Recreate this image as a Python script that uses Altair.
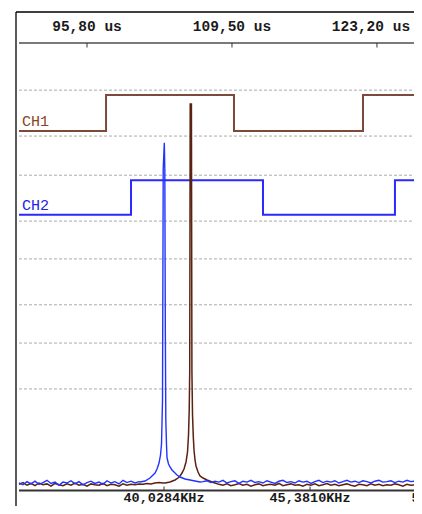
import altair as alt
import pandas as pd
import numpy as np

# ---------------- axes ----------------
T_MIN, T_MAX = 89.375, 126.70          # visible time window (us), top axis
time_ticks = [95.80, 109.50, 123.20]
time_labels = ["95,80 us", "109,50 us", "123,20 us"]

F_MIN, F_MAX = 34.712, 49.193          # visible frequency window (KHz), bottom axis
freq_ticks = [40.0284, 45.3810, 50.7336]
freq_labels = ["40,0284KHz", "45,3810KHz", "50,7336KHz"]

# ---------------- logic lanes ----------------
grid_levels = [89.3, 79.1, 70.4, 60.2, 51.8, 41.6, 33.1, 22.9]

ch1_t = [89.375, 97.60, 109.69, 121.88, 127.07]
ch1_bit = [0, 1, 0, 1, 1]
ch1_lo, ch1_hi = 80.2, 88.2

ch2_t = [89.375, 99.96, 112.43, 124.90, 127.07]
ch2_bit = [0, 1, 0, 1, 1]
ch2_lo, ch2_hi = 61.6, 69.3

# ---------------- spectra ----------------
NOISE_F0, NOISE_DF = 34.712, 0.1466
blue_noise = [
    2.0, 1.6, 2.3, 1.8, 2.4, 1.7, 2.1, 2.6, 1.9, 2.2,
    1.5, 2.2, 2.0, 2.5, 1.8, 2.3, 1.6, 2.1, 2.4, 1.9,
    2.2, 1.7, 2.5, 2.0, 2.3, 1.8, 2.6, 2.1, 2.4, 2.0,
    2.3, 2.2, 2.4, 2.5, 2.6, 2.8, 3.0, 3.2, 3.0, 2.8,
    2.6, 2.5, 2.4, 2.3, 2.4, 2.2, 2.3, 2.5, 2.1, 2.4,
    2.2, 2.6, 2.0, 2.3, 2.5, 1.9, 2.4, 2.2, 2.6, 2.1,
    2.3, 2.0, 2.5, 2.2, 1.9, 2.4, 2.6, 2.1, 2.3, 2.0,
    2.5, 2.2, 2.4, 1.9, 2.3, 2.6, 2.1, 2.4, 2.2, 2.5,
    2.0, 2.3, 2.6, 2.2, 2.4, 2.1, 2.5, 2.3, 2.0, 2.4,
    2.6, 2.2, 2.3, 2.5, 2.1, 2.4, 2.2, 2.6, 2.3, 2.4,
]
brown_noise = [
    1.7, 2.1, 1.5, 1.9, 1.4, 2.0, 1.6, 1.8, 1.3, 1.9,
    1.6, 1.4, 1.8, 1.5, 2.0, 1.5, 1.7, 1.3, 1.8, 1.6,
    1.5, 1.9, 1.4, 1.7, 1.6, 1.3, 1.8, 1.5, 1.7, 1.6,
    1.8, 1.7, 1.9, 1.8, 2.0, 2.1, 2.0, 2.1, 2.2, 2.3,
    2.4, 2.5, 2.4, 2.3, 2.2, 2.1, 2.0, 2.1, 2.0, 2.0,
    1.7, 1.5, 1.8, 1.4, 1.6, 1.9, 1.5, 1.7, 1.3, 1.6,
    1.8, 1.4, 1.6, 1.7, 1.5, 1.9, 1.4, 1.6, 1.8, 1.5,
    1.6, 1.3, 1.7, 1.5, 1.8, 1.4, 1.6, 1.9, 1.5, 1.7,
    1.4, 1.6, 1.8, 1.5, 1.3, 1.7, 1.6, 1.4, 1.8, 1.5,
    1.7, 1.4, 1.6, 1.5, 1.8, 1.6, 1.3, 1.7, 1.5, 1.6,
]

blue_peak_f = [39.1485, 39.3318, 39.5151, 39.6251, 39.6984, 39.7718, 39.8451,
               39.9001, 39.9367, 39.9734, 39.9991, 40.0394, 40.0577, 40.0761,
               40.0944, 40.1201, 40.1384, 40.1934, 40.2484, 40.3217, 40.3950,
               40.5050, 40.6150, 40.7983, 40.9816, 41.1649, 41.3482]
blue_peak_a = [2.22, 2.44, 3.11, 3.78, 4.22, 5.11, 6.44,
               8.22, 10.67, 20.4, 71.8, 77.6, 71.8, 36.0,
               16.0, 10.4, 7.56, 6.22, 5.56, 4.89, 4.44,
               3.78, 3.33, 2.89, 2.67, 2.44, 2.22]

brown_peak_f = [40.0651, 40.2484, 40.4317, 40.5417, 40.6150, 40.6883, 40.7616,
                40.8350, 40.8900, 40.9266, 40.9523, 40.9706, 40.9889, 41.0329,
                41.0513, 41.0733, 41.1026, 41.1283, 41.1649, 41.2016, 41.2749,
                41.3482, 41.4582, 41.6048, 41.7882]
brown_peak_a = [2.0, 2.22, 2.67, 3.11, 3.56, 4.22, 5.11,
                6.67, 8.89, 12.67, 18.2, 26.7, 86.2, 86.2,
                26.7, 17.1, 12.2, 9.3, 7.11, 5.78, 4.44,
                3.56, 3.11, 2.67, 2.22]


def spectrum(noise, pf, pa):
    nf = NOISE_F0 + NOISE_DF * np.arange(len(noise))
    keep = (nf < pf[0]) | (nf > pf[-1])
    f = np.concatenate([nf[keep], pf])
    a = np.concatenate([np.array(noise)[keep], pa])
    return pd.DataFrame({"f": f, "v": a}).sort_values("f")


def wave(t, bits, lo, hi):
    return pd.DataFrame({"t": t, "v": [lo + b * (hi - lo) for b in bits]})


W, H = 395, 450
FONT = "Liberation Mono"

xt = alt.X("t:Q", scale=alt.Scale(domain=[T_MIN, T_MAX], nice=False, zero=False), axis=None)
xf = alt.X("f:Q", scale=alt.Scale(domain=[F_MIN, F_MAX], nice=False, zero=False), axis=None)
yv = alt.Y("v:Q", scale=alt.Scale(domain=[0, 100], nice=False, zero=False), axis=None)

one = pd.DataFrame({"a": [0]})

grid = alt.Chart(pd.DataFrame({"v": grid_levels})).mark_rule(
    color="#aaaaaa", strokeWidth=1, strokeDash=[3, 2]
).encode(y=yv, x=alt.value(0), x2=alt.value(W))

ch1 = alt.Chart(wave(ch1_t, ch1_bit, ch1_lo, ch1_hi)).mark_line(
    interpolate="step-after", color="#7b4a3a", strokeWidth=2
).encode(x=xt, y=yv)
ch2 = alt.Chart(wave(ch2_t, ch2_bit, ch2_lo, ch2_hi)).mark_line(
    interpolate="step-after", color="#2a2aff", strokeWidth=2
).encode(x=xt, y=yv)

ch_labels = alt.Chart(pd.DataFrame({"v": [ch1_lo, ch2_lo], "lab": ["CH1", "CH2"],
                                    "c": ["#8a4424", "#2323e6"]})).mark_text(
    align="left", baseline="alphabetic", font=FONT, fontSize=15, dy=-5
).encode(x=alt.value(3), y=yv, text="lab:N", color=alt.Color("c:N", scale=None))

brown = alt.Chart(spectrum(brown_noise, brown_peak_f, brown_peak_a)).mark_line(
    color="#5a2210", strokeWidth=1.5
).encode(x=xf, y=yv, order="f:Q")
blue = alt.Chart(spectrum(blue_noise, blue_peak_f, blue_peak_a)).mark_line(
    color="#2233ff", strokeWidth=1.4
).encode(x=xf, y=yv, order="f:Q")

# axis lines
top_line = alt.Chart(one).mark_rule(color="#7a7a7a", strokeWidth=2).encode(
    x=alt.value(0), x2=alt.value(W), y=alt.value(1))
bot_line = alt.Chart(one).mark_rule(color="#333333", strokeWidth=2).encode(
    x=alt.value(0), x2=alt.value(W), y=alt.value(448.6))

top_ticks = alt.Chart(pd.DataFrame({"t": time_ticks})).mark_rule(color="#333333", strokeWidth=1).encode(
    x=xt, y=alt.value(1), y2=alt.value(5.5))
bot_ticks = alt.Chart(pd.DataFrame({"f": freq_ticks[:2]})).mark_rule(color="#333333", strokeWidth=1).encode(
    x=xf, y=alt.value(444.5), y2=alt.value(448))

lab_style = dict(baseline="alphabetic", font=FONT, fontWeight="bold", color="#1a1a1a")

top_df = pd.DataFrame({"t": time_ticks, "lab": time_labels})
top_text = alt.Chart(top_df.iloc[:2]).mark_text(align="center", fontSize=14.5, **lab_style).encode(
    x=xt, y=alt.value(-11), text="lab:N")
top_text_last = alt.Chart(top_df.iloc[2:]).mark_text(align="center", fontSize=14.5, dx=-6, **lab_style).encode(
    x=xt, y=alt.value(-11), text="lab:N")

bot_df = pd.DataFrame({"f": freq_ticks, "lab": freq_labels})
bot_text = alt.Chart(bot_df.iloc[:2]).mark_text(align="center", fontSize=13.5, **lab_style).encode(
    x=xf, y=alt.value(459.5), text="lab:N")
bot_text_last = alt.Chart(bot_df.iloc[2:]).mark_text(align="center", fontSize=13.5, dx=-4, **lab_style).encode(
    x=xf, y=alt.value(459.5), text="lab:N")

# outer frame (left and top edges)
frame_left = alt.Chart(one).mark_rule(color="#000000", strokeWidth=1.3).encode(
    x=alt.value(-3), y=alt.value(-30), y2=alt.value(470))
frame_top = alt.Chart(one).mark_rule(color="#000000", strokeWidth=1.3).encode(
    x=alt.value(-3), x2=alt.value(W), y=alt.value(-30))

chart = alt.layer(
    grid, ch1, ch2, ch_labels, brown, blue,
    top_line, bot_line, top_ticks, bot_ticks,
    top_text, top_text_last, bot_text, bot_text_last,
    frame_left, frame_top,
).resolve_scale(x="independent").properties(
    width=W, height=H,
    padding={"left": 11, "top": 34, "right": 0, "bottom": 14},
    autosize=alt.AutoSizeParams(type="none"),
    background="white",
).configure_view(stroke=None)

chart.save("out.html", embed_options={"renderer": "svg", "actions": False})
